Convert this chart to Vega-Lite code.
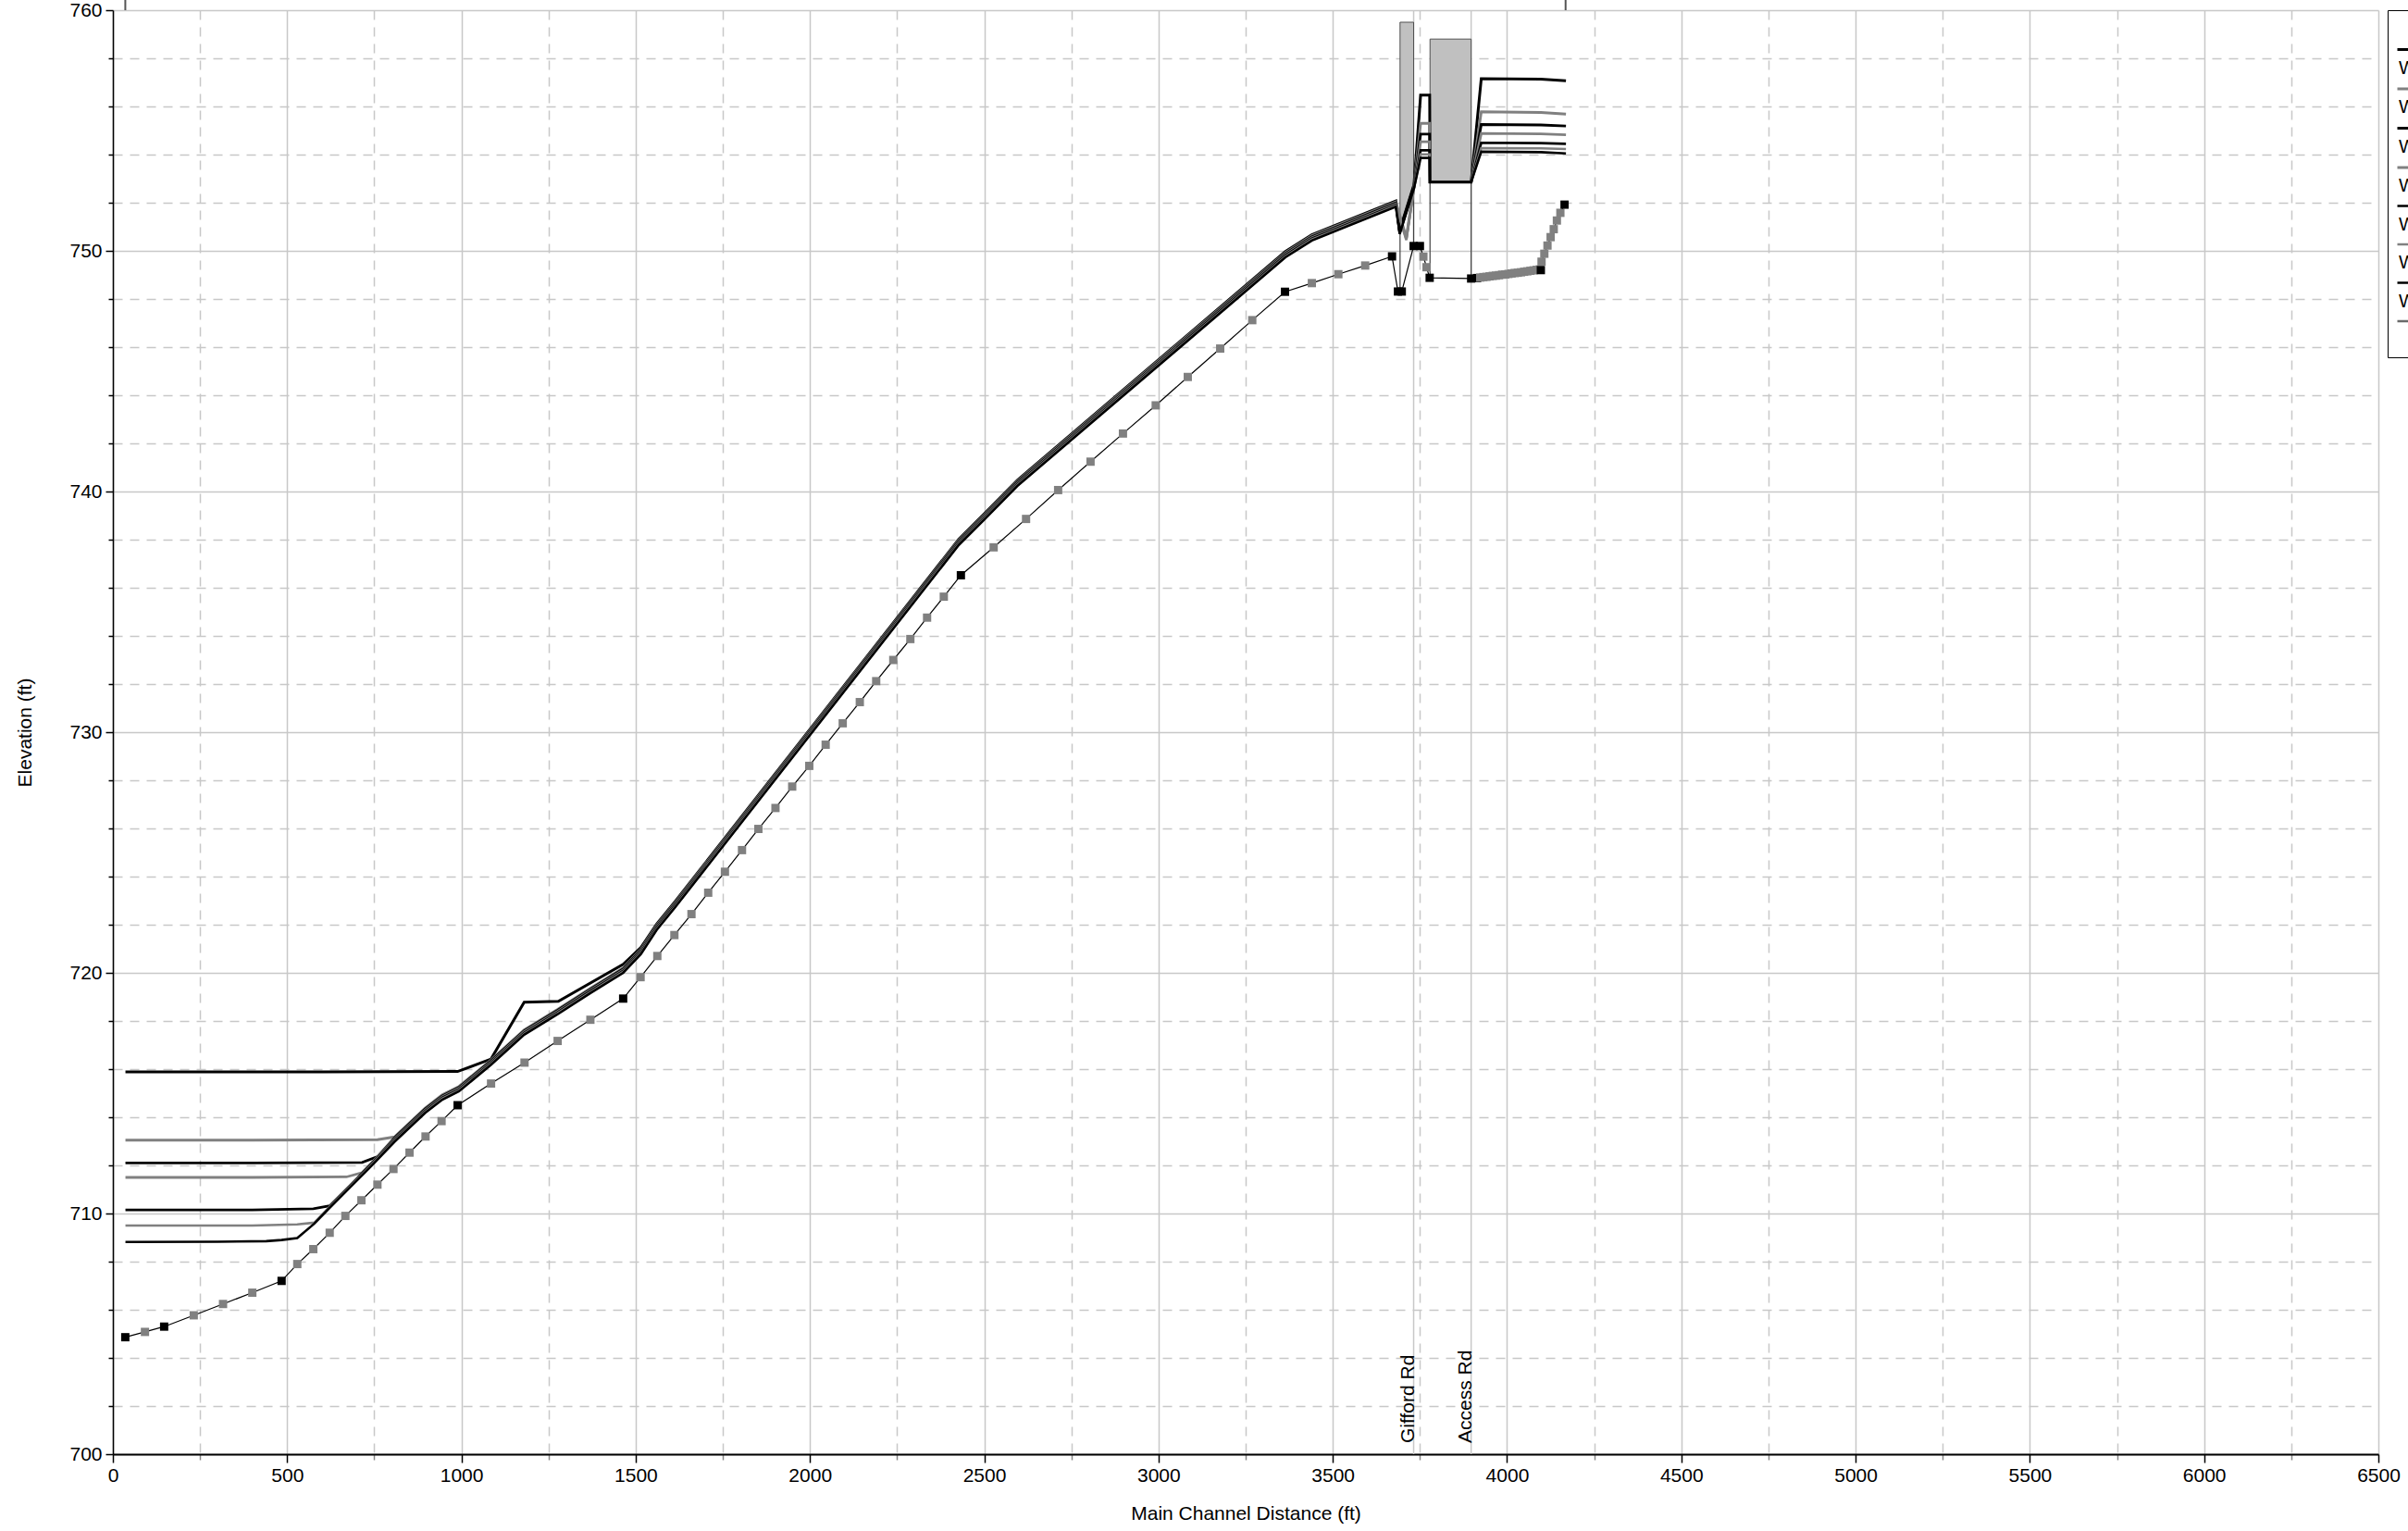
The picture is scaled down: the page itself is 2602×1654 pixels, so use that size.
{
  "$schema": "https://vega.github.io/schema/vega-lite/v6.json",
  "width": 2448,
  "height": 1560,
  "autosize": {"type": "none"},
  "padding": {"left": 122, "top": 11, "right": 32, "bottom": 83},
  "background": "#ffffff",
  "config": {"view": {"stroke": null}, "font": "Liberation Sans"},
  "datasets": {
    "bridges": [
      {"x": 3732, "y": 700, "y2": 760, "name": "Gifford Rd"},
      {"x": 3897, "y": 700, "y2": 760, "name": "Access Rd"}
    ],
    "gifford": [
      {"x": 3693, "y": 759.5, "y2": 750.8},
      {"x": 3732, "y": 759.5, "y2": 752.6}
    ],
    "access": [
      {"x": 3779, "x2": 3897, "y": 758.8, "y2": 752.86}
    ],
    "piers": [
      {"x": 3693, "y": 748.31, "y2": 750.8},
      {"x": 3732, "y": 750.2, "y2": 752.6},
      {"x": 3779, "y": 748.88, "y2": 752.86},
      {"x": 3897, "y": 748.85, "y2": 752.86}
    ],
    "ends": [
      {"x": 35.6, "y": 760, "y2": 760.45},
      {"x": 4168, "y": 760, "y2": 760.45}
    ],
    "ws": [
      {"p": "WS 500 yr", "x": 36, "y": 715.88}, {"p": "WS 500 yr", "x": 600, "y": 715.88}, {"p": "WS 500 yr", "x": 989, "y": 715.9}, {"p": "WS 500 yr", "x": 1085, "y": 716.42}, {"p": "WS 500 yr", "x": 1180, "y": 718.78}, {"p": "WS 500 yr", "x": 1278, "y": 718.82}, {"p": "WS 500 yr", "x": 1464, "y": 720.35}, {"p": "WS 500 yr", "x": 1515, "y": 721.05}, {"p": "WS 500 yr", "x": 1560, "y": 722.02}, {"p": "WS 500 yr", "x": 1613, "y": 722.96}, {"p": "WS 500 yr", "x": 2427, "y": 738.02}, {"p": "WS 500 yr", "x": 2500, "y": 739.07}, {"p": "WS 500 yr", "x": 2595, "y": 740.47}, {"p": "WS 500 yr", "x": 3364, "y": 749.97}, {"p": "WS 500 yr", "x": 3440, "y": 750.67}, {"p": "WS 500 yr", "x": 3681, "y": 752.07}, {"p": "WS 500 yr", "x": 3692, "y": 750.85}, {"p": "WS 500 yr", "x": 3733, "y": 752.75}, {"p": "WS 500 yr", "x": 3752, "y": 756.47}, {"p": "WS 500 yr", "x": 3778, "y": 756.47}, {"p": "WS 500 yr", "x": 3779, "y": 752.86}, {"p": "WS 500 yr", "x": 3897, "y": 752.86}, {"p": "WS 500 yr", "x": 3926, "y": 757.15}, {"p": "WS 500 yr", "x": 4097, "y": 757.13}, {"p": "WS 500 yr", "x": 4169, "y": 757.07},

      {"p": "WS 200 yr", "x": 36, "y": 713.05}, {"p": "WS 200 yr", "x": 400, "y": 713.05}, {"p": "WS 200 yr", "x": 759, "y": 713.07}, {"p": "WS 200 yr", "x": 808, "y": 713.18}, {"p": "WS 200 yr", "x": 896, "y": 714.38}, {"p": "WS 200 yr", "x": 945, "y": 714.93}, {"p": "WS 200 yr", "x": 993, "y": 715.28}, {"p": "WS 200 yr", "x": 1085, "y": 716.38}, {"p": "WS 200 yr", "x": 1180, "y": 717.63}, {"p": "WS 200 yr", "x": 1276, "y": 718.48}, {"p": "WS 200 yr", "x": 1370, "y": 719.36}, {"p": "WS 200 yr", "x": 1464, "y": 720.2}, {"p": "WS 200 yr", "x": 1515, "y": 720.98}, {"p": "WS 200 yr", "x": 1560, "y": 721.98}, {"p": "WS 200 yr", "x": 1613, "y": 722.92}, {"p": "WS 200 yr", "x": 2427, "y": 737.98}, {"p": "WS 200 yr", "x": 2500, "y": 739.03}, {"p": "WS 200 yr", "x": 2595, "y": 740.43}, {"p": "WS 200 yr", "x": 3364, "y": 749.93}, {"p": "WS 200 yr", "x": 3440, "y": 750.63}, {"p": "WS 200 yr", "x": 3681, "y": 752.03}, {"p": "WS 200 yr", "x": 3711, "y": 750.55}, {"p": "WS 200 yr", "x": 3733, "y": 752.7}, {"p": "WS 200 yr", "x": 3752, "y": 755.3}, {"p": "WS 200 yr", "x": 3778, "y": 755.3}, {"p": "WS 200 yr", "x": 3779, "y": 752.86}, {"p": "WS 200 yr", "x": 3897, "y": 752.86}, {"p": "WS 200 yr", "x": 3926, "y": 755.78}, {"p": "WS 200 yr", "x": 4097, "y": 755.75}, {"p": "WS 200 yr", "x": 4169, "y": 755.68},

      {"p": "WS 100 yr", "x": 36, "y": 712.1}, {"p": "WS 100 yr", "x": 400, "y": 712.1}, {"p": "WS 100 yr", "x": 715, "y": 712.12}, {"p": "WS 100 yr", "x": 759, "y": 712.36}, {"p": "WS 100 yr", "x": 808, "y": 713.14}, {"p": "WS 100 yr", "x": 896, "y": 714.34}, {"p": "WS 100 yr", "x": 945, "y": 714.89}, {"p": "WS 100 yr", "x": 993, "y": 715.24}, {"p": "WS 100 yr", "x": 1085, "y": 716.34}, {"p": "WS 100 yr", "x": 1180, "y": 717.59}, {"p": "WS 100 yr", "x": 1276, "y": 718.44}, {"p": "WS 100 yr", "x": 1370, "y": 719.32}, {"p": "WS 100 yr", "x": 1464, "y": 720.16}, {"p": "WS 100 yr", "x": 1515, "y": 720.94}, {"p": "WS 100 yr", "x": 1560, "y": 721.94}, {"p": "WS 100 yr", "x": 1613, "y": 722.88}, {"p": "WS 100 yr", "x": 2427, "y": 737.94}, {"p": "WS 100 yr", "x": 2500, "y": 738.99}, {"p": "WS 100 yr", "x": 2595, "y": 740.39}, {"p": "WS 100 yr", "x": 3364, "y": 749.89}, {"p": "WS 100 yr", "x": 3440, "y": 750.59}, {"p": "WS 100 yr", "x": 3681, "y": 751.99}, {"p": "WS 100 yr", "x": 3692, "y": 750.8}, {"p": "WS 100 yr", "x": 3733, "y": 752.7}, {"p": "WS 100 yr", "x": 3752, "y": 754.85}, {"p": "WS 100 yr", "x": 3778, "y": 754.85}, {"p": "WS 100 yr", "x": 3779, "y": 752.86}, {"p": "WS 100 yr", "x": 3897, "y": 752.86}, {"p": "WS 100 yr", "x": 3926, "y": 755.25}, {"p": "WS 100 yr", "x": 4097, "y": 755.23}, {"p": "WS 100 yr", "x": 4169, "y": 755.19},

      {"p": "WS 50 yr", "x": 36, "y": 711.5}, {"p": "WS 50 yr", "x": 400, "y": 711.5}, {"p": "WS 50 yr", "x": 670, "y": 711.52}, {"p": "WS 50 yr", "x": 715, "y": 711.7}, {"p": "WS 50 yr", "x": 735, "y": 712.0}, {"p": "WS 50 yr", "x": 755, "y": 712.3}, {"p": "WS 50 yr", "x": 808, "y": 713.1}, {"p": "WS 50 yr", "x": 896, "y": 714.3}, {"p": "WS 50 yr", "x": 945, "y": 714.85}, {"p": "WS 50 yr", "x": 993, "y": 715.2}, {"p": "WS 50 yr", "x": 1085, "y": 716.3}, {"p": "WS 50 yr", "x": 1180, "y": 717.55}, {"p": "WS 50 yr", "x": 1276, "y": 718.4}, {"p": "WS 50 yr", "x": 1370, "y": 719.28}, {"p": "WS 50 yr", "x": 1464, "y": 720.12}, {"p": "WS 50 yr", "x": 1515, "y": 720.9}, {"p": "WS 50 yr", "x": 1560, "y": 721.9}, {"p": "WS 50 yr", "x": 1613, "y": 722.84}, {"p": "WS 50 yr", "x": 2427, "y": 737.9}, {"p": "WS 50 yr", "x": 2500, "y": 738.95}, {"p": "WS 50 yr", "x": 2595, "y": 740.35}, {"p": "WS 50 yr", "x": 3364, "y": 749.85}, {"p": "WS 50 yr", "x": 3440, "y": 750.55}, {"p": "WS 50 yr", "x": 3681, "y": 751.95}, {"p": "WS 50 yr", "x": 3711, "y": 750.5}, {"p": "WS 50 yr", "x": 3733, "y": 752.65}, {"p": "WS 50 yr", "x": 3752, "y": 754.53}, {"p": "WS 50 yr", "x": 3778, "y": 754.53}, {"p": "WS 50 yr", "x": 3779, "y": 752.86}, {"p": "WS 50 yr", "x": 3897, "y": 752.86}, {"p": "WS 50 yr", "x": 3926, "y": 754.88}, {"p": "WS 50 yr", "x": 4097, "y": 754.86}, {"p": "WS 50 yr", "x": 4169, "y": 754.82},

      {"p": "WS 25 yr", "x": 36, "y": 710.15}, {"p": "WS 25 yr", "x": 400, "y": 710.15}, {"p": "WS 25 yr", "x": 575, "y": 710.2}, {"p": "WS 25 yr", "x": 622, "y": 710.32}, {"p": "WS 25 yr", "x": 680, "y": 711.16}, {"p": "WS 25 yr", "x": 735, "y": 711.96}, {"p": "WS 25 yr", "x": 755, "y": 712.26}, {"p": "WS 25 yr", "x": 808, "y": 713.06}, {"p": "WS 25 yr", "x": 896, "y": 714.26}, {"p": "WS 25 yr", "x": 945, "y": 714.81}, {"p": "WS 25 yr", "x": 993, "y": 715.16}, {"p": "WS 25 yr", "x": 1085, "y": 716.26}, {"p": "WS 25 yr", "x": 1180, "y": 717.51}, {"p": "WS 25 yr", "x": 1276, "y": 718.36}, {"p": "WS 25 yr", "x": 1370, "y": 719.24}, {"p": "WS 25 yr", "x": 1464, "y": 720.08}, {"p": "WS 25 yr", "x": 1515, "y": 720.86}, {"p": "WS 25 yr", "x": 1560, "y": 721.86}, {"p": "WS 25 yr", "x": 1613, "y": 722.8}, {"p": "WS 25 yr", "x": 2427, "y": 737.86}, {"p": "WS 25 yr", "x": 2500, "y": 738.91}, {"p": "WS 25 yr", "x": 2595, "y": 740.31}, {"p": "WS 25 yr", "x": 3364, "y": 749.81}, {"p": "WS 25 yr", "x": 3440, "y": 750.51}, {"p": "WS 25 yr", "x": 3681, "y": 751.91}, {"p": "WS 25 yr", "x": 3692, "y": 750.75}, {"p": "WS 25 yr", "x": 3733, "y": 752.65}, {"p": "WS 25 yr", "x": 3752, "y": 754.18}, {"p": "WS 25 yr", "x": 3778, "y": 754.18}, {"p": "WS 25 yr", "x": 3779, "y": 752.86}, {"p": "WS 25 yr", "x": 3897, "y": 752.86}, {"p": "WS 25 yr", "x": 3926, "y": 754.49}, {"p": "WS 25 yr", "x": 4097, "y": 754.48}, {"p": "WS 25 yr", "x": 4169, "y": 754.45},

      {"p": "WS 10 yr", "x": 36, "y": 709.5}, {"p": "WS 10 yr", "x": 400, "y": 709.5}, {"p": "WS 10 yr", "x": 529, "y": 709.55}, {"p": "WS 10 yr", "x": 578, "y": 709.62}, {"p": "WS 10 yr", "x": 622, "y": 710.28}, {"p": "WS 10 yr", "x": 680, "y": 711.12}, {"p": "WS 10 yr", "x": 735, "y": 711.92}, {"p": "WS 10 yr", "x": 755, "y": 712.22}, {"p": "WS 10 yr", "x": 808, "y": 713.02}, {"p": "WS 10 yr", "x": 896, "y": 714.22}, {"p": "WS 10 yr", "x": 945, "y": 714.77}, {"p": "WS 10 yr", "x": 993, "y": 715.12}, {"p": "WS 10 yr", "x": 1085, "y": 716.22}, {"p": "WS 10 yr", "x": 1180, "y": 717.47}, {"p": "WS 10 yr", "x": 1276, "y": 718.32}, {"p": "WS 10 yr", "x": 1370, "y": 719.2}, {"p": "WS 10 yr", "x": 1464, "y": 720.04}, {"p": "WS 10 yr", "x": 1515, "y": 720.82}, {"p": "WS 10 yr", "x": 1560, "y": 721.82}, {"p": "WS 10 yr", "x": 1613, "y": 722.76}, {"p": "WS 10 yr", "x": 2427, "y": 737.82}, {"p": "WS 10 yr", "x": 2500, "y": 738.87}, {"p": "WS 10 yr", "x": 2595, "y": 740.27}, {"p": "WS 10 yr", "x": 3364, "y": 749.77}, {"p": "WS 10 yr", "x": 3440, "y": 750.47}, {"p": "WS 10 yr", "x": 3681, "y": 751.87}, {"p": "WS 10 yr", "x": 3711, "y": 750.45}, {"p": "WS 10 yr", "x": 3733, "y": 752.6}, {"p": "WS 10 yr", "x": 3752, "y": 754.01}, {"p": "WS 10 yr", "x": 3778, "y": 754.01}, {"p": "WS 10 yr", "x": 3779, "y": 752.86}, {"p": "WS 10 yr", "x": 3897, "y": 752.86}, {"p": "WS 10 yr", "x": 3926, "y": 754.27}, {"p": "WS 10 yr", "x": 4097, "y": 754.26}, {"p": "WS 10 yr", "x": 4169, "y": 754.23},

      {"p": "WS 2 yr", "x": 36, "y": 708.82}, {"p": "WS 2 yr", "x": 300, "y": 708.83}, {"p": "WS 2 yr", "x": 440, "y": 708.85}, {"p": "WS 2 yr", "x": 484, "y": 708.9}, {"p": "WS 2 yr", "x": 529, "y": 708.98}, {"p": "WS 2 yr", "x": 578, "y": 709.58}, {"p": "WS 2 yr", "x": 622, "y": 710.24}, {"p": "WS 2 yr", "x": 680, "y": 711.08}, {"p": "WS 2 yr", "x": 735, "y": 711.88}, {"p": "WS 2 yr", "x": 755, "y": 712.18}, {"p": "WS 2 yr", "x": 808, "y": 712.98}, {"p": "WS 2 yr", "x": 896, "y": 714.18}, {"p": "WS 2 yr", "x": 945, "y": 714.73}, {"p": "WS 2 yr", "x": 993, "y": 715.08}, {"p": "WS 2 yr", "x": 1085, "y": 716.18}, {"p": "WS 2 yr", "x": 1180, "y": 717.43}, {"p": "WS 2 yr", "x": 1276, "y": 718.28}, {"p": "WS 2 yr", "x": 1370, "y": 719.16}, {"p": "WS 2 yr", "x": 1464, "y": 720.0}, {"p": "WS 2 yr", "x": 1515, "y": 720.78}, {"p": "WS 2 yr", "x": 1560, "y": 721.78}, {"p": "WS 2 yr", "x": 1613, "y": 722.72}, {"p": "WS 2 yr", "x": 2427, "y": 737.78}, {"p": "WS 2 yr", "x": 2500, "y": 738.83}, {"p": "WS 2 yr", "x": 2595, "y": 740.23}, {"p": "WS 2 yr", "x": 3364, "y": 749.73}, {"p": "WS 2 yr", "x": 3440, "y": 750.43}, {"p": "WS 2 yr", "x": 3681, "y": 751.83}, {"p": "WS 2 yr", "x": 3692, "y": 750.7}, {"p": "WS 2 yr", "x": 3733, "y": 752.6}, {"p": "WS 2 yr", "x": 3752, "y": 753.86}, {"p": "WS 2 yr", "x": 3778, "y": 753.86}, {"p": "WS 2 yr", "x": 3779, "y": 752.86}, {"p": "WS 2 yr", "x": 3897, "y": 752.86}, {"p": "WS 2 yr", "x": 3926, "y": 754.12}, {"p": "WS 2 yr", "x": 4097, "y": 754.1}, {"p": "WS 2 yr", "x": 4169, "y": 754.05}
    ],
    "ground": [
      {"x": 35.5, "y": 704.86, "t": "xs"}, {"x": 92, "y": 705.08, "t": "i"}, {"x": 147, "y": 705.3, "t": "xs"}, {"x": 232, "y": 705.77, "t": "i"}, {"x": 316, "y": 706.24, "t": "i"}, {"x": 400, "y": 706.71, "t": "i"}, {"x": 484, "y": 707.2, "t": "xs"}, {"x": 529, "y": 707.9, "t": "i"}, {"x": 575, "y": 708.52, "t": "i"}, {"x": 622, "y": 709.2, "t": "i"}, {"x": 667, "y": 709.9, "t": "i"}, {"x": 713, "y": 710.55, "t": "i"}, {"x": 759, "y": 711.2, "t": "i"}, {"x": 805, "y": 711.85, "t": "i"}, {"x": 851, "y": 712.53, "t": "i"}, {"x": 897, "y": 713.2, "t": "i"}, {"x": 943, "y": 713.84, "t": "i"}, {"x": 989, "y": 714.5, "t": "xs"}, {"x": 1085, "y": 715.4, "t": "i"}, {"x": 1181, "y": 716.27, "t": "i"}, {"x": 1276, "y": 717.17, "t": "i"}, {"x": 1370, "y": 718.05, "t": "i"}, {"x": 1464, "y": 718.93, "t": "xs"}, {"x": 1514, "y": 719.82, "t": "i"}, {"x": 1562, "y": 720.7, "t": "i"}, {"x": 1611, "y": 721.57, "t": "i"}, {"x": 1660, "y": 722.44, "t": "i"}, {"x": 1708, "y": 723.33, "t": "i"}, {"x": 1756, "y": 724.2, "t": "i"}, {"x": 1805, "y": 725.1, "t": "i"}, {"x": 1852, "y": 725.98, "t": "i"}, {"x": 1901, "y": 726.85, "t": "i"}, {"x": 1949, "y": 727.74, "t": "i"}, {"x": 1998, "y": 728.6, "t": "i"}, {"x": 2045, "y": 729.48, "t": "i"}, {"x": 2094, "y": 730.37, "t": "i"}, {"x": 2143, "y": 731.25, "t": "i"}, {"x": 2190, "y": 732.12, "t": "i"}, {"x": 2239, "y": 733.0, "t": "i"}, {"x": 2288, "y": 733.87, "t": "i"}, {"x": 2336, "y": 734.76, "t": "i"}, {"x": 2384, "y": 735.63, "t": "i"}, {"x": 2433, "y": 736.52, "t": "xs"}, {"x": 2527, "y": 737.68, "t": "i"}, {"x": 2620, "y": 738.86, "t": "i"}, {"x": 2712, "y": 740.06, "t": "i"}, {"x": 2805, "y": 741.24, "t": "i"}, {"x": 2898, "y": 742.41, "t": "i"}, {"x": 2992, "y": 743.58, "t": "i"}, {"x": 3084, "y": 744.76, "t": "i"}, {"x": 3177, "y": 745.94, "t": "i"}, {"x": 3269, "y": 747.12, "t": "i"}, {"x": 3363, "y": 748.3, "t": "xs"}, {"x": 3440, "y": 748.66, "t": "i"}, {"x": 3516, "y": 749.03, "t": "i"}, {"x": 3593, "y": 749.39, "t": "i"}, {"x": 3670, "y": 749.77, "t": "xs"}, {"x": 3687, "y": 748.31, "t": "xs"}, {"x": 3698, "y": 748.31, "t": "xs"}, {"x": 3732, "y": 750.2, "t": "xs"}, {"x": 3750, "y": 750.2, "t": "xs"}, {"x": 3760, "y": 749.76, "t": "i"}, {"x": 3769, "y": 749.32, "t": "i"}, {"x": 3778, "y": 748.88, "t": "xs"}, {"x": 3897, "y": 748.85, "t": "xs"}, {"x": 3914, "y": 748.87, "t": "xs"}, {"x": 3923, "y": 748.89, "t": "i"}, {"x": 3932, "y": 748.91, "t": "i"}, {"x": 3941, "y": 748.92, "t": "i"}, {"x": 3950, "y": 748.94, "t": "i"}, {"x": 3959, "y": 748.96, "t": "i"}, {"x": 3968, "y": 748.97, "t": "i"}, {"x": 3977, "y": 748.99, "t": "i"}, {"x": 3986, "y": 749.01, "t": "i"}, {"x": 3995, "y": 749.02, "t": "i"}, {"x": 4004, "y": 749.04, "t": "i"}, {"x": 4013, "y": 749.06, "t": "i"}, {"x": 4022, "y": 749.08, "t": "i"}, {"x": 4031, "y": 749.09, "t": "i"}, {"x": 4040, "y": 749.11, "t": "i"}, {"x": 4049, "y": 749.13, "t": "i"}, {"x": 4058, "y": 749.15, "t": "i"}, {"x": 4067, "y": 749.17, "t": "i"}, {"x": 4076, "y": 749.19, "t": "i"}, {"x": 4085, "y": 749.21, "t": "i"}, {"x": 4094, "y": 749.23, "t": "i"}, {"x": 4097, "y": 749.2, "t": "xs"}, {"x": 4099, "y": 749.55, "t": "i"}, {"x": 4107, "y": 749.88, "t": "i"}, {"x": 4116, "y": 750.22, "t": "i"}, {"x": 4125, "y": 750.57, "t": "i"}, {"x": 4134, "y": 750.9, "t": "i"}, {"x": 4143, "y": 751.26, "t": "i"}, {"x": 4153, "y": 751.58, "t": "i"}, {"x": 4165, "y": 751.92, "t": "xs"}
    ]
  },
  "encoding": {
    "x": {
      "field": "x", "type": "quantitative",
      "scale": {"domain": [0, 6500], "nice": false, "zero": false},
      "axis": {
        "title": "Main Channel Distance (ft)",
        "values": [0, 250, 500, 750, 1000, 1250, 1500, 1750, 2000, 2250, 2500, 2750, 3000, 3250, 3500, 3750, 4000, 4250, 4500, 4750, 5000, 5250, 5500, 5750, 6000, 6250, 6500],
        "format": "d",
        "labelExpr": "datum.value % 500 === 0 ? datum.label : ''",
        "labelFontSize": 21, "labelColor": "#000000", "labelPadding": 3, "labelOverlap": false, "labelFlush": false,
        "tickColor": {"condition": {"test": "datum.value % 500 === 0", "value": "#000000"}, "value": "#888888"},
        "tickSize": {"condition": {"test": "datum.value % 500 === 0", "value": 9}, "value": 6},
        "tickWidth": 1.5,
        "domainColor": "#000000", "domainWidth": 2,
        "grid": true, "gridColor": "#c8c8c8", "gridWidth": 1.5,
        "gridDash": {"condition": {"test": "datum.value % 500 === 0", "value": [1, 0]}, "value": [10, 8]},
        "titleFontSize": 21, "titleFontWeight": "normal", "titleColor": "#000000", "titlePadding": 20
      }
    },
    "y": {
      "field": "y", "type": "quantitative",
      "scale": {"domain": [700, 760], "nice": false, "zero": false},
      "axis": {
        "title": "Elevation (ft)",
        "values": [700, 702, 704, 706, 708, 710, 712, 714, 716, 718, 720, 722, 724, 726, 728, 730, 732, 734, 736, 738, 740, 742, 744, 746, 748, 750, 752, 754, 756, 758, 760],
        "labelExpr": "datum.value % 10 === 0 ? datum.label : ''",
        "labelFontSize": 21, "labelColor": "#000000", "labelPadding": 4, "labelOverlap": false, "labelFlush": false,
        "tickColor": "#000000",
        "tickSize": {"condition": {"test": "datum.value % 10 === 0", "value": 8}, "value": 5},
        "tickWidth": 1.5,
        "domainColor": "#000000", "domainWidth": 1.5,
        "grid": true, "gridColor": "#c8c8c8", "gridWidth": 1.5,
        "gridDash": {"condition": {"test": "datum.value % 10 === 0", "value": [1, 0]}, "value": [10, 8]},
        "titleFontSize": 21, "titleFontWeight": "normal", "titleColor": "#000000", "titlePadding": 37
      }
    }
  },
  "layer": [
    {
      "data": {"name": "bridges"},
      "mark": {"type": "rule", "color": "#c8c8c8", "strokeWidth": 1.5},
      "encoding": {"y2": {"field": "y2"}}
    },
    {
      "data": {"name": "gifford"},
      "mark": {"type": "area", "fill": "#c0c0c0", "stroke": "#505050", "strokeWidth": 1},
      "encoding": {"y2": {"field": "y2"}}
    },
    {
      "data": {"name": "access"},
      "mark": {"type": "rect", "fill": "#c0c0c0", "stroke": "#505050", "strokeWidth": 1},
      "encoding": {"x2": {"field": "x2"}, "y2": {"field": "y2"}}
    },
    {
      "data": {"name": "piers"},
      "mark": {"type": "rule", "color": "#404040", "strokeWidth": 1.2},
      "encoding": {"y2": {"field": "y2"}}
    },
    {
      "data": {"name": "ws"},
      "mark": {"type": "line"},
      "encoding": {
        "color": {
          "field": "p", "type": "nominal",
          "scale": {
            "domain": ["WS 500 yr", "WS 200 yr", "WS 100 yr", "WS 50 yr", "WS 25 yr", "WS 10 yr", "WS 2 yr", "Ground"],
            "range": ["#000000", "#808080", "#000000", "#808080", "#000000", "#808080", "#000000", "#6a6a6a"]
          },
          "legend": {
            "title": " ", "titleFontSize": 18, "titlePadding": 14,
            "orient": "right", "offset": 10, "padding": 9,
            "strokeColor": "#000000", "fillColor": "#ffffff",
            "symbolType": "M-1,-1L1,-1", "symbolSize": 1600, "symbolStrokeWidth": 3,
            "labelFont": "Liberation Sans", "labelFontSize": 20, "labelColor": "#000000",
            "labelBaseline": "middle", "labelOffset": -40,
            "rowPadding": 5.5,
            "labelExpr": "datum.label == 'Ground' ? '' : datum.label"
          }
        },
        "strokeWidth": {
          "field": "p", "type": "nominal",
          "scale": {
            "domain": ["WS 500 yr", "WS 200 yr", "WS 100 yr", "WS 50 yr", "WS 25 yr", "WS 10 yr", "WS 2 yr", "Ground"],
            "range": [3, 2.5, 3, 2.5, 3, 2.5, 3, 2]
          },
          "legend": null
        }
      }
    },
    {
      "data": {"name": "ground"},
      "mark": {"type": "line", "color": "#000000", "strokeWidth": 1.2},
      "encoding": {}
    },
    {
      "data": {"name": "ground"},
      "mark": {"type": "point", "shape": "square", "filled": true, "size": 80, "opacity": 1},
      "encoding": {
        "fill": {
          "field": "t", "type": "nominal",
          "scale": {"domain": ["xs", "i"], "range": ["#000000", "#808080"]},
          "legend": null
        }
      }
    },
    {
      "data": {"name": "bridges"},
      "mark": {"type": "text", "angle": 270, "align": "left", "baseline": "alphabetic", "dx": 12, "fontSize": 21, "font": "Liberation Sans", "color": "#000000"},
      "encoding": {"text": {"field": "name"}}
    },
    {
      "data": {"name": "ends"},
      "mark": {"type": "rule", "color": "#555555", "strokeWidth": 2},
      "encoding": {"y2": {"field": "y2"}}
    }
  ]
}
